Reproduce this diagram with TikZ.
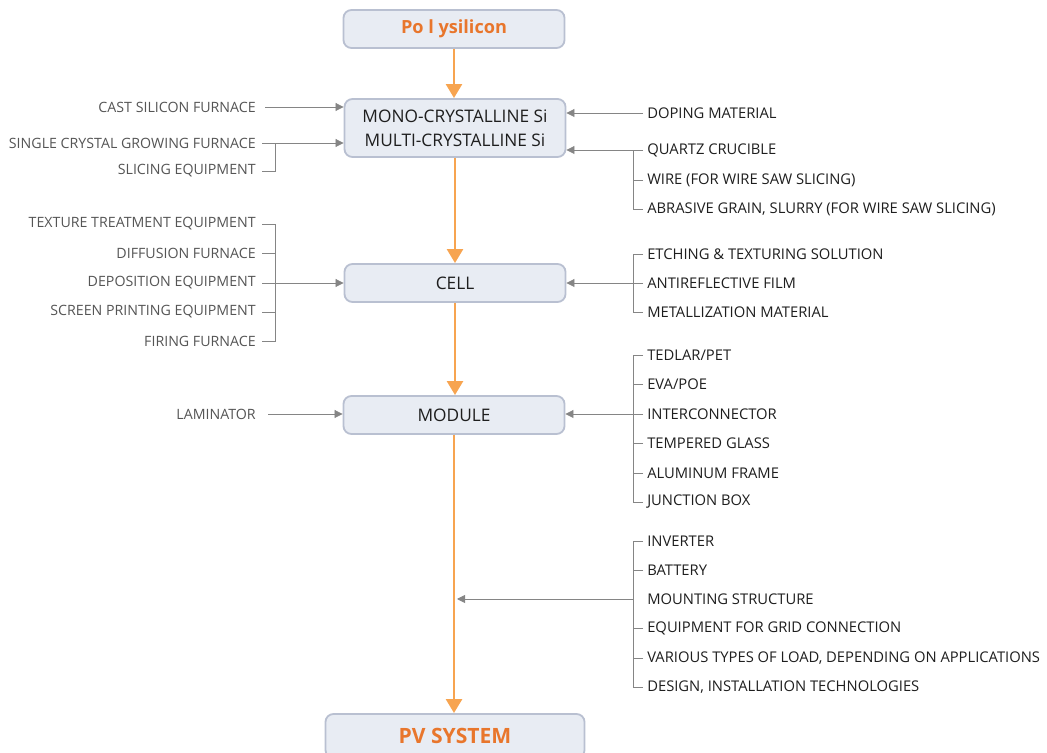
\documentclass[tikz,border=0pt]{standalone}
\usepackage{fontspec}
\setmainfont{Open Sans}
\usetikzlibrary{arrows.meta}
\definecolor{boxfill}{HTML}{E8ECF3}
\definecolor{boxline}{HTML}{B9C0D1}
\definecolor{flowor}{HTML}{F7A450}
\definecolor{titleor}{HTML}{E8762C}
\definecolor{feedgray}{HTML}{858585}
\definecolor{lefttext}{HTML}{555555}
\definecolor{righttext}{HTML}{1E1E1E}
\tikzset{
  stage/.style={draw=boxline, fill=boxfill, line width=1.3pt, rounded corners=0.2cm,
    minimum width=5.525cm, minimum height=0.95cm, inner sep=0pt, align=center,
    text=righttext, font=\fontsize{12.3}{17}\selectfont},
  title/.style={text=titleor, font=\fontsize{12.9}{15}\selectfont\bfseries},
  flow/.style={draw=flowor, line width=1.8pt, -{Triangle[width=0.4cm,length=0.35cm]}},
  feed/.style={draw=feedgray, line width=0.6pt, -{Triangle[width=0.2cm,length=0.2cm]}},
  tick/.style={draw=feedgray, line width=0.6pt},
  lefttag/.style={anchor=east, inner xsep=0.15cm, inner ysep=0pt, text=lefttext,
    font=\fontsize{10.1}{12}\selectfont},
  righttag/.style={anchor=west, inner xsep=0.1cm, inner ysep=0pt, text=righttext,
    font=\fontsize{10.5}{12}\selectfont}
}
\begin{document}
\begin{tikzpicture}[x=0.025cm, y=-0.025cm]
  \useasboundingbox (0,0) rectangle (1047,753);

  % Main chain
  \node[stage, title] (poly) at (454,29) {Po l ysilicon};
  \node[stage, minimum height=1.45cm] (wafer) at (455,128) {MONO-CRYSTALLINE Si\\MULTI-CRYSTALLINE Si};
  \node[stage] (cell) at (455,283) {CELL};
  \node[stage] (module) at (454,415) {MODULE};
  \node[stage, title, font=\fontsize{15}{17}\selectfont\bfseries, minimum width=6.475cm,
    minimum height=1.1cm] (pvsys) at (455,736) {PV SYSTEM};

  \draw[flow] (poly.south) -- (wafer.north -| poly.south);
  \draw[flow] (wafer.south) -- (cell.north);
  \draw[flow] (cell.south) -- (module.north -| cell.south);
  \draw[flow] (module.south) -- (pvsys.north -| module.south);

  % Wafer: equipment
  \node[lefttag] (castf) at (262,107) {CAST SILICON FURNACE};
  \node[lefttag] (growf) at (262,143) {SINGLE CRYSTAL GROWING FURNACE};
  \node[lefttag] (slice) at (262,171) {SLICING EQUIPMENT};
  \draw[feed] ([xshift=0.075cm]castf.east) -- (wafer.west |- castf.east);
  \draw[tick] (growf.east) -- ++(13,0) |- (slice.east);
  \draw[feed] ([xshift=0.325cm]growf.east) -- (wafer.west |- growf.east);

  % Wafer: materials
  \node[righttag] (doping) at (643,113) {DOPING MATERIAL};
  \node[righttag] (quartz) at (643,150) {QUARTZ CRUCIBLE};
  \node[righttag] (wire) at (643,180) {WIRE (FOR WIRE SAW SLICING)};
  \node[righttag] (slurry) at (643,209) {ABRASIVE GRAIN, SLURRY (FOR WIRE SAW SLICING)};
  \draw[feed] (doping.west) -- (wafer.east |- doping.west);
  \draw[tick] (quartz.west) -- ++(-10,0) |- (slurry.west);
  \draw[tick] (wire.west) -- ++(-10,0);
  \draw[feed] ([xshift=-0.25cm]quartz.west) -- (wafer.east |- quartz.west);

  % Cell: equipment
  \node[lefttag] (texture) at (262,224) {TEXTURE TREATMENT EQUIPMENT};
  \node[lefttag] (diffus) at (262,253) {DIFFUSION FURNACE};
  \node[lefttag] (deposit) at (262,283) {DEPOSITION EQUIPMENT};
  \node[lefttag] (screen) at (262,312) {SCREEN PRINTING EQUIPMENT};
  \node[lefttag] (firing) at (262,341) {FIRING FURNACE};
  \draw[tick] (texture.east) -- ++(13,0) |- (firing.east);
  \draw[tick] (diffus.east) -- ++(13,0);
  \draw[tick] (screen.east) -- ++(13,0);
  \draw[feed] (deposit.east) -- (cell.west |- deposit.east);

  % Cell: materials
  \node[righttag] (etching) at (643,254) {ETCHING \& TEXTURING SOLUTION};
  \node[righttag] (antiref) at (643,283) {ANTIREFLECTIVE FILM};
  \node[righttag] (metal) at (643,312) {METALLIZATION MATERIAL};
  \draw[tick] (etching.west) -- ++(-10,0) |- (metal.west);
  \draw[feed] (antiref.west) -- (cell.east |- antiref.west);

  % Module: equipment
  \node[lefttag] (lamin) at (262,414) {LAMINATOR};
  \draw[feed] ([xshift=0.15cm]lamin.east) -- (module.west |- lamin.east);

  % Module: materials
  \node[righttag] (tedlar) at (643,355) {TEDLAR/PET};
  \node[righttag] (eva) at (643,384) {EVA/POE};
  \node[righttag] (interc) at (643,414) {INTERCONNECTOR};
  \node[righttag] (glass) at (643,443) {TEMPERED GLASS};
  \node[righttag] (frame) at (643,473) {ALUMINUM FRAME};
  \node[righttag] (jbox) at (643,502) {JUNCTION BOX};
  \draw[tick] (tedlar.west) -- ++(-10,0) |- (jbox.west);
  \draw[tick] (eva.west) -- ++(-10,0);
  \draw[tick] (glass.west) -- ++(-10,0);
  \draw[tick] (frame.west) -- ++(-10,0);
  \draw[feed] (interc.west) -- (module.east |- interc.west);

  % System: balance of system
  \node[righttag] (inverter) at (643,541) {INVERTER};
  \node[righttag] (battery) at (643,570) {BATTERY};
  \node[righttag] (mount) at (643,599) {MOUNTING STRUCTURE};
  \node[righttag] (grid) at (643,628) {EQUIPMENT FOR GRID CONNECTION};
  \node[righttag] (load) at (643,658) {VARIOUS TYPES OF LOAD, DEPENDING ON APPLICATIONS};
  \node[righttag] (design) at (643,687) {DESIGN, INSTALLATION TECHNOLOGIES};
  \draw[tick] (inverter.west) -- ++(-10,0) |- (design.west);
  \draw[tick] (battery.west) -- ++(-10,0);
  \draw[tick] (grid.west) -- ++(-10,0);
  \draw[tick] (load.west) -- ++(-10,0);
  \draw[feed] ([xshift=-0.25cm]mount.west) -- ([xshift=0.075cm]module.south |- mount.west);
\end{tikzpicture}
\end{document}
